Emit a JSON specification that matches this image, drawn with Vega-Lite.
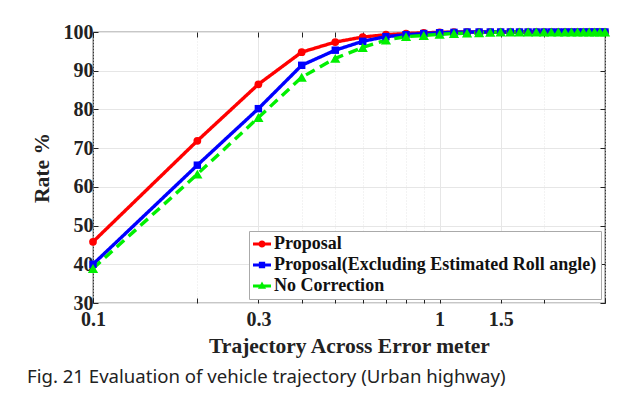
{
  "$schema": "https://vega.github.io/schema/vega-lite/v6.json",
  "autosize": {"type": "none"},
  "width": 512,
  "height": 271,
  "padding": {"left": 93, "top": 32, "right": 30, "bottom": 92},
  "background": "white",
  "title": {
    "text": "Fig. 21  Evaluation of vehicle trajectory (Urban highway)",
    "orient": "bottom",
    "anchor": "start",
    "frame": "group",
    "dx": -66,
    "offset": 11,
    "font": "Noto Sans",
    "fontSize": 18.6,
    "fontWeight": "normal",
    "color": "#222222"
  },
  "config": {
    "view": {"stroke": "#222222", "strokeWidth": 1.2},
    "axis": {
      "domain": false,
      "labelFont": "Liberation Serif",
      "labelFontWeight": "bold",
      "labelFontSize": 20,
      "labelColor": "#222222",
      "titleFont": "Liberation Serif",
      "titleFontWeight": "bold",
      "titleFontSize": 21.5,
      "titleColor": "#222222",
      "tickColor": "#222222",
      "gridColor": "#e6e6e6",
      "gridWidth": 1
    }
  },
  "data": {
    "values": [
      {"x": 0.1, "rate": 45.8, "series": "Proposal"},
      {"x": 0.2, "rate": 71.9, "series": "Proposal"},
      {"x": 0.3, "rate": 86.5, "series": "Proposal"},
      {"x": 0.4, "rate": 94.8, "series": "Proposal"},
      {"x": 0.5, "rate": 97.4, "series": "Proposal"},
      {"x": 0.6, "rate": 98.7, "series": "Proposal"},
      {"x": 0.7, "rate": 99.3, "series": "Proposal"},
      {"x": 0.8, "rate": 99.6, "series": "Proposal"},
      {"x": 0.9, "rate": 99.8, "series": "Proposal"},
      {"x": 1.0, "rate": 99.9, "series": "Proposal"},
      {"x": 1.1, "rate": 100, "series": "Proposal"},
      {"x": 1.2, "rate": 100, "series": "Proposal"},
      {"x": 1.3, "rate": 100, "series": "Proposal"},
      {"x": 1.4, "rate": 100, "series": "Proposal"},
      {"x": 1.5, "rate": 100, "series": "Proposal"},
      {"x": 1.6, "rate": 100, "series": "Proposal"},
      {"x": 1.7, "rate": 100, "series": "Proposal"},
      {"x": 1.8, "rate": 100, "series": "Proposal"},
      {"x": 1.9, "rate": 100, "series": "Proposal"},
      {"x": 2.0, "rate": 100, "series": "Proposal"},
      {"x": 2.1, "rate": 100, "series": "Proposal"},
      {"x": 2.2, "rate": 100, "series": "Proposal"},
      {"x": 2.3, "rate": 100, "series": "Proposal"},
      {"x": 2.4, "rate": 100, "series": "Proposal"},
      {"x": 2.5, "rate": 100, "series": "Proposal"},
      {"x": 2.6, "rate": 100, "series": "Proposal"},
      {"x": 2.7, "rate": 100, "series": "Proposal"},
      {"x": 2.8, "rate": 100, "series": "Proposal"},
      {"x": 2.9, "rate": 100, "series": "Proposal"},
      {"x": 3.0, "rate": 100, "series": "Proposal"},
      {"x": 0.1, "rate": 40.0, "series": "Proposal(Excluding Estimated Roll angle)"},
      {"x": 0.2, "rate": 65.6, "series": "Proposal(Excluding Estimated Roll angle)"},
      {"x": 0.3, "rate": 80.2, "series": "Proposal(Excluding Estimated Roll angle)"},
      {"x": 0.4, "rate": 91.4, "series": "Proposal(Excluding Estimated Roll angle)"},
      {"x": 0.5, "rate": 95.3, "series": "Proposal(Excluding Estimated Roll angle)"},
      {"x": 0.6, "rate": 97.6, "series": "Proposal(Excluding Estimated Roll angle)"},
      {"x": 0.7, "rate": 98.8, "series": "Proposal(Excluding Estimated Roll angle)"},
      {"x": 0.8, "rate": 99.3, "series": "Proposal(Excluding Estimated Roll angle)"},
      {"x": 0.9, "rate": 99.6, "series": "Proposal(Excluding Estimated Roll angle)"},
      {"x": 1.0, "rate": 99.8, "series": "Proposal(Excluding Estimated Roll angle)"},
      {"x": 1.1, "rate": 99.9, "series": "Proposal(Excluding Estimated Roll angle)"},
      {"x": 1.2, "rate": 100, "series": "Proposal(Excluding Estimated Roll angle)"},
      {"x": 1.3, "rate": 100, "series": "Proposal(Excluding Estimated Roll angle)"},
      {"x": 1.4, "rate": 100, "series": "Proposal(Excluding Estimated Roll angle)"},
      {"x": 1.5, "rate": 100, "series": "Proposal(Excluding Estimated Roll angle)"},
      {"x": 1.6, "rate": 100, "series": "Proposal(Excluding Estimated Roll angle)"},
      {"x": 1.7, "rate": 100, "series": "Proposal(Excluding Estimated Roll angle)"},
      {"x": 1.8, "rate": 100, "series": "Proposal(Excluding Estimated Roll angle)"},
      {"x": 1.9, "rate": 100, "series": "Proposal(Excluding Estimated Roll angle)"},
      {"x": 2.0, "rate": 100, "series": "Proposal(Excluding Estimated Roll angle)"},
      {"x": 2.1, "rate": 100, "series": "Proposal(Excluding Estimated Roll angle)"},
      {"x": 2.2, "rate": 100, "series": "Proposal(Excluding Estimated Roll angle)"},
      {"x": 2.3, "rate": 100, "series": "Proposal(Excluding Estimated Roll angle)"},
      {"x": 2.4, "rate": 100, "series": "Proposal(Excluding Estimated Roll angle)"},
      {"x": 2.5, "rate": 100, "series": "Proposal(Excluding Estimated Roll angle)"},
      {"x": 2.6, "rate": 100, "series": "Proposal(Excluding Estimated Roll angle)"},
      {"x": 2.7, "rate": 100, "series": "Proposal(Excluding Estimated Roll angle)"},
      {"x": 2.8, "rate": 100, "series": "Proposal(Excluding Estimated Roll angle)"},
      {"x": 2.9, "rate": 100, "series": "Proposal(Excluding Estimated Roll angle)"},
      {"x": 3.0, "rate": 100, "series": "Proposal(Excluding Estimated Roll angle)"},
      {"x": 0.1, "rate": 38.9, "series": "No Correction"},
      {"x": 0.2, "rate": 63.3, "series": "No Correction"},
      {"x": 0.3, "rate": 77.9, "series": "No Correction"},
      {"x": 0.4, "rate": 88.3, "series": "No Correction"},
      {"x": 0.5, "rate": 93.2, "series": "No Correction"},
      {"x": 0.6, "rate": 96.0, "series": "No Correction"},
      {"x": 0.7, "rate": 97.9, "series": "No Correction"},
      {"x": 0.8, "rate": 98.8, "series": "No Correction"},
      {"x": 0.9, "rate": 99.1, "series": "No Correction"},
      {"x": 1.0, "rate": 99.4, "series": "No Correction"},
      {"x": 1.1, "rate": 99.6, "series": "No Correction"},
      {"x": 1.2, "rate": 99.7, "series": "No Correction"},
      {"x": 1.3, "rate": 99.8, "series": "No Correction"},
      {"x": 1.4, "rate": 99.9, "series": "No Correction"},
      {"x": 1.5, "rate": 100, "series": "No Correction"},
      {"x": 1.6, "rate": 100, "series": "No Correction"},
      {"x": 1.7, "rate": 100, "series": "No Correction"},
      {"x": 1.8, "rate": 100, "series": "No Correction"},
      {"x": 1.9, "rate": 100, "series": "No Correction"},
      {"x": 2.0, "rate": 100, "series": "No Correction"},
      {"x": 2.1, "rate": 100, "series": "No Correction"},
      {"x": 2.2, "rate": 100, "series": "No Correction"},
      {"x": 2.3, "rate": 100, "series": "No Correction"},
      {"x": 2.4, "rate": 100, "series": "No Correction"},
      {"x": 2.5, "rate": 100, "series": "No Correction"},
      {"x": 2.6, "rate": 100, "series": "No Correction"},
      {"x": 2.7, "rate": 100, "series": "No Correction"},
      {"x": 2.8, "rate": 100, "series": "No Correction"},
      {"x": 2.9, "rate": 100, "series": "No Correction"},
      {"x": 3.0, "rate": 100, "series": "No Correction"}
    ]
  },
  "resolve": {"axis": {"x": "independent", "y": "independent"}},
  "layer": [
    {
      "mark": {"type": "line", "strokeWidth": 3.4},
      "encoding": {
        "x": {
          "field": "x", "type": "quantitative",
          "scale": {"type": "log", "domain": [0.1, 3]},
          "axis": {
            "orient": "bottom",
            "title": "Trajectory Across Error meter",
            "titlePadding": 6,
            "values": [0.1, 0.2, 0.3, 0.4, 0.5, 0.6, 0.7, 0.8, 0.9, 1, 1.5, 2, 3],
            "labelExpr": "datum.value == 0.1 ? '0.1' : datum.value == 0.3 ? '0.3' : datum.value == 1 ? '1' : datum.value == 1.5 ? '1.5' : ''",
            "tickSize": -5,
            "labelPadding": 11,
            "labelFlush": false,
            "labelOverlap": false,
            "grid": true,
            "gridDash": {"condition": {"test": "datum.value == 0.3 || datum.value == 1 || datum.value == 1.5", "value": []}, "value": [1, 2]}
          }
        },
        "y": {
          "field": "rate", "type": "quantitative",
          "scale": {"domain": [30, 100], "nice": false, "zero": false},
          "axis": {
            "orient": "left",
            "title": "Rate %",
            "titlePadding": 10,
            "values": [30, 40, 50, 60, 70, 80, 90, 100],
            "tickSize": -5,
            "labelPadding": 5,
            "labelFlush": false,
            "grid": true
          }
        },
        "color": {
          "field": "series", "type": "nominal",
          "scale": {
            "domain": ["Proposal", "Proposal(Excluding Estimated Roll angle)", "No Correction"],
            "range": ["#ff0000", "#0000ff", "#00f000"]
          },
          "legend": {
            "title": null,
            "orient": "bottom-right",
            "offset": 4,
            "strokeColor": "#aaaaaa",
            "fillColor": "white",
            "padding": 4,
            "labelFont": "Liberation Serif",
            "labelFontWeight": "bold",
            "labelFontSize": 18,
            "labelColor": "#111111",
            "labelLimit": 0,
            "labelOffset": 3,
            "rowPadding": 3,
            "symbolSize": 324,
            "symbolStrokeWidth": 0,
            "encode": {
              "symbols": {
                "update": {
                  "shape": {"signal": "datum.value == 'Proposal' ? 'M-1,-0.17H1V0.17H-1Z M0.4,0A0.4,0.4 0 1 1 -0.4,0A0.4,0.4 0 1 1 0.4,0Z' : datum.value == 'No Correction' ? 'M-1,-0.17H1V0.17H-1Z M0,-0.5L0.45,0.3H-0.45Z' : 'M-1,-0.17H1V0.17H-1Z M-0.35,-0.35H0.35V0.35H-0.35Z'"},
                  "fill": {"signal": "scale('color', datum.value)"},
                  "fillOpacity": {"value": 1},
                  "strokeWidth": {"value": 0}
                }
              }
            }
          }
        },
        "strokeDash": {
          "field": "series", "type": "nominal",
          "scale": {
            "domain": ["Proposal", "Proposal(Excluding Estimated Roll angle)", "No Correction"],
            "range": [[1, 0], [1, 0], [10, 6]]
          },
          "legend": null
        }
      }
    },
    {
      "transform": [{"filter": "datum.series == 'Proposal'"}],
      "mark": {"type": "point", "filled": true, "opacity": 1, "shape": "circle", "size": 60},
      "encoding": {
        "x": {
          "field": "x", "type": "quantitative",
          "scale": {"type": "log", "domain": [0.1, 3]},
          "axis": {
            "orient": "top",
            "title": null,
            "labels": false,
            "grid": false,
            "values": [0.1, 0.2, 0.3, 0.4, 0.5, 0.6, 0.7, 0.8, 0.9, 1, 1.5, 2, 3],
            "tickSize": -5
          }
        },
        "y": {
          "field": "rate", "type": "quantitative",
          "scale": {"domain": [30, 100], "nice": false, "zero": false},
          "axis": {
            "orient": "right",
            "title": null,
            "labels": false,
            "grid": false,
            "values": [30, 40, 50, 60, 70, 80, 90, 100],
            "tickSize": -5
          }
        },
        "color": {"field": "series", "type": "nominal"}
      }
    },
    {
      "transform": [{"filter": "datum.series == 'Proposal(Excluding Estimated Roll angle)'"}],
      "mark": {"type": "point", "filled": true, "opacity": 1, "shape": "square", "size": 55},
      "encoding": {
        "x": {"field": "x", "type": "quantitative", "scale": {"type": "log", "domain": [0.1, 3]}, "axis": null},
        "y": {"field": "rate", "type": "quantitative", "scale": {"domain": [30, 100], "nice": false, "zero": false}, "axis": null},
        "color": {"field": "series", "type": "nominal"}
      }
    },
    {
      "transform": [{"filter": "datum.series == 'No Correction'"}],
      "mark": {"type": "point", "filled": true, "opacity": 1, "shape": "triangle-up", "size": 105},
      "encoding": {
        "x": {"field": "x", "type": "quantitative", "scale": {"type": "log", "domain": [0.1, 3]}, "axis": null},
        "y": {"field": "rate", "type": "quantitative", "scale": {"domain": [30, 100], "nice": false, "zero": false}, "axis": null},
        "color": {"field": "series", "type": "nominal"}
      }
    }
  ]
}
